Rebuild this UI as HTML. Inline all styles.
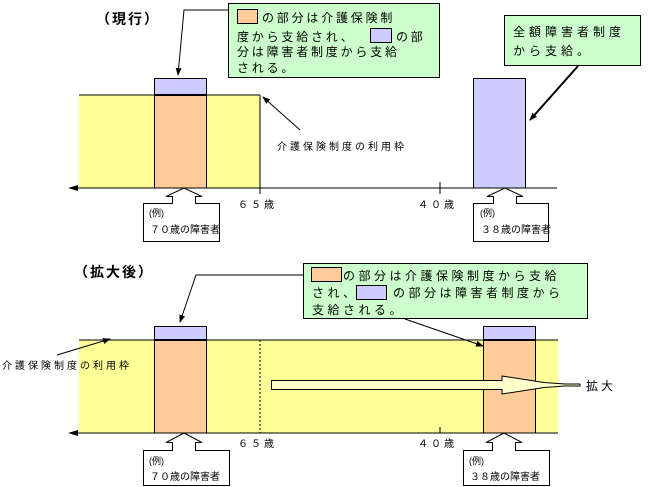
<!DOCTYPE html>
<html><head><meta charset="utf-8"><style>
html,body{margin:0;padding:0;background:#fff;width:654px;height:487px;overflow:hidden}
svg{display:block}
text{font-family:"Liberation Sans","Noto Sans CJK JP",sans-serif;fill:#000}
</style></head><body>
<svg width="654" height="487" viewBox="0 0 654 487" xmlns="http://www.w3.org/2000/svg">
<defs>
<marker id="ah" markerWidth="8" markerHeight="8" refX="7" refY="4" orient="auto" markerUnits="userSpaceOnUse"><path d="M0,1 L8,4 L0,7 Z" fill="#000"/></marker>
</defs>
<!-- ===== TOP ===== -->
<text x="96" y="24" font-size="14" font-weight="bold" letter-spacing="2">（現行）</text>
<rect x="79" y="95" width="181" height="93" fill="#ffff99"/>
<line x1="79" y1="95" x2="260" y2="95" stroke="#000"/>
<line x1="260" y1="95" x2="260" y2="188" stroke="#000"/>
<rect x="154.5" y="78.5" width="52" height="16.5" fill="#ccccff" stroke="#000"/>
<rect x="154.5" y="95" width="52" height="93" fill="#ffcc99" stroke="#000"/>
<line x1="154" y1="95" x2="207" y2="95" stroke="#000" stroke-width="2"/>
<rect x="473.5" y="78.5" width="52" height="109.5" fill="#ccccff" stroke="#000"/>
<line x1="70" y1="188" x2="557" y2="188" stroke="#000"/>
<path d="M68,188 L78,185 L78,191 Z" fill="#000"/>
<line x1="260" y1="188" x2="260" y2="194" stroke="#000"/>
<line x1="440" y1="182" x2="440" y2="194" stroke="#000"/>
<text x="238" y="208" font-size="10" letter-spacing="3">６５歳</text>
<text x="418" y="208" font-size="10" letter-spacing="3">４０歳</text>
<!-- green box 1 -->
<rect x="228.5" y="3.5" width="211" height="74" fill="#ccffcc" stroke="#000"/>
<rect x="237.5" y="9.5" width="20" height="14" fill="#ffcc99" stroke="#000"/>
<text x="262" y="22" font-size="12" letter-spacing="2.8">の部分は介護保険制</text>
<text x="237" y="41" font-size="12" letter-spacing="2.8">度から支給され、</text>
<rect x="370.5" y="28.5" width="21" height="14" fill="#ccccff" stroke="#000"/>
<text x="396" y="41" font-size="12" letter-spacing="2.8">の部</text>
<text x="237" y="56" font-size="12" letter-spacing="2.8">分は障害者制度から支給</text>
<text x="237" y="72" font-size="12" letter-spacing="2.8">される。</text>
<polyline points="228,10 184,10 178,75" fill="none" stroke="#000" marker-end="url(#ah)"/>
<!-- green box 2 -->
<rect x="504.5" y="15.5" width="136" height="50" fill="#ccffcc" stroke="#000"/>
<text x="513" y="36" font-size="12" letter-spacing="4">全額障害者制度</text>
<text x="513" y="55" font-size="12" letter-spacing="4">から支給。</text>
<line x1="578" y1="66" x2="530" y2="120" stroke="#000" stroke-width="2" marker-end="url(#ah)"/>
<text x="277" y="150" font-size="10" letter-spacing="3">介護保険制度の利用枠</text>
<line x1="300" y1="130" x2="263" y2="97" stroke="#000" marker-end="url(#ah)"/>
<!-- callouts top -->
<path d="M143.5,241.5 L143.5,203.5 L172.5,203.5 L172.5,196.5 L166,196.5 L184,188 L202,196.5 L195.5,196.5 L195.5,203.5 L219.5,203.5 L219.5,241.5 Z" fill="#fff" stroke="#000"/>
<text x="149" y="216" font-size="9">(例)</text>
<text x="150" y="233" font-size="10">７０歳の障害者</text>
<path d="M473.5,241.5 L473.5,203.5 L493.5,203.5 L493.5,196.5 L487,196.5 L505,188 L523,196.5 L516.5,196.5 L516.5,203.5 L548.5,203.5 L548.5,241.5 Z" fill="#fff" stroke="#000"/>
<text x="480" y="216" font-size="9">(例)</text>
<text x="481" y="233" font-size="10">３８歳の障害者</text>
<!-- ===== BOTTOM ===== -->
<text x="74" y="277" font-size="14" font-weight="bold" letter-spacing="2">（拡大後）</text>
<rect x="79" y="340" width="479" height="93" fill="#ffff99"/>
<line x1="79" y1="340" x2="558" y2="340" stroke="#000"/>
<line x1="260" y1="340" x2="260" y2="433" stroke="#000" stroke-dasharray="2,2"/>
<rect x="154.5" y="326.5" width="52" height="13.5" fill="#ccccff" stroke="#000"/>
<rect x="154.5" y="340" width="52" height="93" fill="#ffcc99" stroke="#000"/>
<line x1="154" y1="340" x2="207" y2="340" stroke="#000" stroke-width="2"/>
<rect x="483.5" y="326.5" width="52" height="13.5" fill="#ccccff" stroke="#000"/>
<rect x="483.5" y="340" width="52" height="93" fill="#ffcc99" stroke="#000"/>
<line x1="483" y1="340" x2="536" y2="340" stroke="#000" stroke-width="2"/>
<line x1="70" y1="433" x2="558" y2="433" stroke="#000"/>
<path d="M68,433 L78,430 L78,436 Z" fill="#000"/>
<line x1="440" y1="427" x2="440" y2="433" stroke="#000"/>
<text x="238" y="447" font-size="10" letter-spacing="3">６５歳</text>
<text x="418" y="447" font-size="10" letter-spacing="3">４０歳</text>
<!-- hollow arrow -->
<path d="M271.5,380.5 L502,380.5 L502,376 L544,382.5 L565,384 L580,384 L580,386 L565,386 L544,387.5 L502,394 L502,389.5 L271.5,389.5 Z" fill="#ffffcc" stroke="#000"/>
<text x="586" y="390" font-size="12" letter-spacing="3">拡大</text>
<!-- green box bottom -->
<rect x="303.5" y="263.5" width="284" height="55" fill="#ccffcc" stroke="#000"/>
<rect x="311.5" y="267.5" width="30" height="14" fill="#ffcc99" stroke="#000"/>
<text x="343" y="280" font-size="12" letter-spacing="3.5">の部分は介護保険制度から支給</text>
<text x="312" y="297" font-size="12" letter-spacing="3.5">され、</text>
<rect x="356.5" y="285.5" width="30" height="14" fill="#ccccff" stroke="#000"/>
<text x="393" y="297" font-size="12" letter-spacing="3.5">の部分は障害者制度から</text>
<text x="312" y="314" font-size="12" letter-spacing="3.5">支給される。</text>
<line x1="405" y1="319" x2="483" y2="346" stroke="#000" marker-end="url(#ah)"/>
<polyline points="303,275 196,275 180,322" fill="none" stroke="#000" marker-end="url(#ah)"/>
<text x="2" y="369" font-size="10" letter-spacing="3">介護保険制度の利用枠</text>
<line x1="57" y1="355" x2="110" y2="339" stroke="#000" marker-end="url(#ah)"/>
<!-- callouts bottom -->
<path d="M143.5,485.5 L143.5,450.5 L172.5,450.5 L172.5,442.5 L166,442.5 L184,433 L202,442.5 L195.5,442.5 L195.5,450.5 L229.5,450.5 L229.5,485.5 Z" fill="#fff" stroke="#000"/>
<text x="149" y="464" font-size="9">(例)</text>
<text x="150" y="480" font-size="10">７０歳の障害者</text>
<path d="M463.5,485.5 L463.5,450.5 L492.5,450.5 L492.5,442.5 L486,442.5 L504,433 L522,442.5 L515.5,442.5 L515.5,450.5 L549.5,450.5 L549.5,485.5 Z" fill="#fff" stroke="#000"/>
<text x="469" y="464" font-size="9">(例)</text>
<text x="470" y="480" font-size="10">３８歳の障害者</text>
</svg>
</body></html>
